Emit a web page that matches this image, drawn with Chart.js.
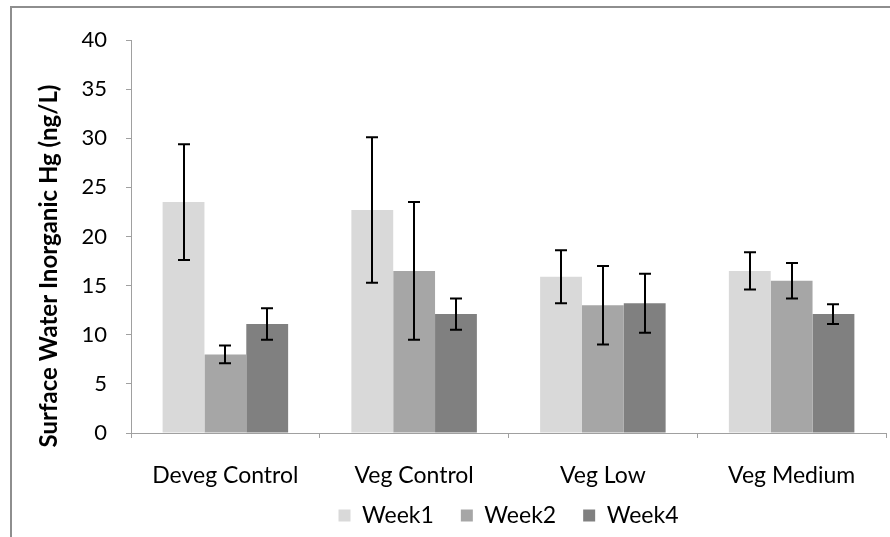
<!DOCTYPE html>
<html>
<head>
<meta charset="utf-8">
<script src="https://cdn.jsdelivr.net/npm/chart.js@4.4.1/dist/chart.umd.min.js"></script>
<style>
  html, body { margin: 0; padding: 0; background: #fff; }
  #wrap { position: relative; width: 890px; height: 537px; overflow: hidden; }
  #frame { position: absolute; left: 10px; top: 6px; width: 1000px; height: 700px;
           border-left: 2px solid #8e8e8e; border-top: 2px solid #8e8e8e; }
  canvas { position: absolute; left: 0; top: 0; }
</style>
</head>
<body>
<div id="wrap">
  <div id="frame"></div>
  <canvas id="c" width="890" height="537"></canvas>
</div>
<script>
// Treatments and sampling weeks
const categories = ['Deveg Control', 'Veg Control', 'Veg Low', 'Veg Medium'];
const seriesNames = ['Week1', 'Week2', 'Week4'];

// Mean surface water inorganic Hg (ng/L)
const week1 = [23.5, 22.7, 15.9, 16.5];
const week2 = [8.0, 16.5, 13.0, 15.5];
const week4 = [11.1, 12.1, 13.2, 12.1];

// Error bar half-widths (ng/L)
const week1Err = [5.9, 7.4, 2.7, 1.9];
const week2Err = [0.9, 7.0, 4.0, 1.8];
const week4Err = [1.6, 1.6, 3.0, 1.0];

const yTicks = [0, 5, 10, 15, 20, 25, 30, 35, 40];
const yTitle = 'Surface Water Inorganic Hg (ng/L)';

const colors = ['#d9d9d9', '#a6a6a6', '#808080'];
const values = [week1, week2, week4];
const errors = [week1Err, week2Err, week4Err];

const FONT = 'Lato, "Open Sans", sans-serif';
const LEGEND_HEIGHT = 46;
const LEGEND_LIFT = 14;

// Draws symmetric error bars on top of each bar
const errorBars = {
  id: 'errorBars',
  afterDatasetsDraw(chart) {
    const ctx = chart.ctx;
    const y = chart.scales.y;
    ctx.save();
    ctx.strokeStyle = '#000';
    ctx.lineWidth = 2;
    chart.data.datasets.forEach((ds, di) => {
      const meta = chart.getDatasetMeta(di);
      meta.data.forEach((bar, i) => {
        const v = ds.data[i];
        const e = ds.err[i];
        const x = Math.round(bar.x);
        const yt = y.getPixelForValue(v + e);
        const yb = y.getPixelForValue(v - e);
        const cap = 6;
        ctx.beginPath();
        ctx.moveTo(x, yt); ctx.lineTo(x, yb);
        ctx.moveTo(x - cap, yt); ctx.lineTo(x + cap, yt);
        ctx.moveTo(x - cap, yb); ctx.lineTo(x + cap, yb);
        ctx.stroke();
      });
    });
    ctx.restore();
  }
};

// Rotated bold y-axis title
const axisTitle = {
  id: 'axisTitle',
  afterDraw(chart) {
    const ctx = chart.ctx;
    ctx.save();
    ctx.translate(57, 266);
    ctx.rotate(-Math.PI / 2);
    ctx.font = 'bold 24px ' + FONT;
    ctx.fillStyle = '#000';
    ctx.textAlign = 'center';
    ctx.textBaseline = 'alphabetic';
    ctx.fillText(yTitle, 0, 0);
    ctx.restore();
  }
};

// Keeps the legend compact: fixed box height, row lifted toward the axis labels
const legendFit = {
  id: 'legendFit',
  beforeLayout(chart) {
    const lg = chart.legend;
    if (lg && !lg._fixedFit) {
      const orig = lg.fit;
      lg.fit = function () { orig.call(this); this.height = LEGEND_HEIGHT; };
      lg._fixedFit = true;
    }
  },
  afterLayout(chart) {
    const lg = chart.legend;
    if (lg) { lg.top -= LEGEND_LIFT; lg.bottom -= LEGEND_LIFT; }
  }
};

new Chart(document.getElementById('c'), {
  type: 'bar',
  data: {
    labels: categories,
    datasets: seriesNames.map((name, k) => ({
      label: name,
      data: values[k],
      err: errors[k],
      backgroundColor: colors[k],
      borderWidth: 0,
      categoryPercentage: 0.665,
      barPercentage: 1.0
    }))
  },
  options: {
    responsive: false,
    animation: false,
    layout: { padding: { top: 40, right: 4, bottom: 0, left: 0 } },
    plugins: {
      legend: {
        position: 'bottom',
        fullSize: false,
        labels: {
          boxWidth: 12,
          boxHeight: 12,
          padding: 27,
          color: '#000',
          font: { family: FONT, size: 23 }
        }
      },
      tooltip: { enabled: false }
    },
    scales: {
      x: {
        grid: { drawOnChartArea: false, color: '#a0a0a0', tickLength: 5, offset: true },
        border: { color: '#a0a0a0', width: 1 },
        ticks: { color: '#000', padding: 24, font: { family: FONT, size: 23 }, maxRotation: 0 },
        afterFit(s) { s.height = 58; }
      },
      y: {
        min: 0, max: 40,
        afterBuildTicks(s) { s.ticks = yTicks.map(v => ({ value: v })); },
        grid: { drawOnChartArea: false, color: '#a0a0a0', tickLength: 5 },
        border: { color: '#a0a0a0', width: 1 },
        ticks: { color: '#000', padding: 19, font: { family: FONT, size: 22 } },
        afterFit(s) { s.width = 131; }
      }
    }
  },
  plugins: [errorBars, axisTitle, legendFit]
});
</script>
</body>
</html>
